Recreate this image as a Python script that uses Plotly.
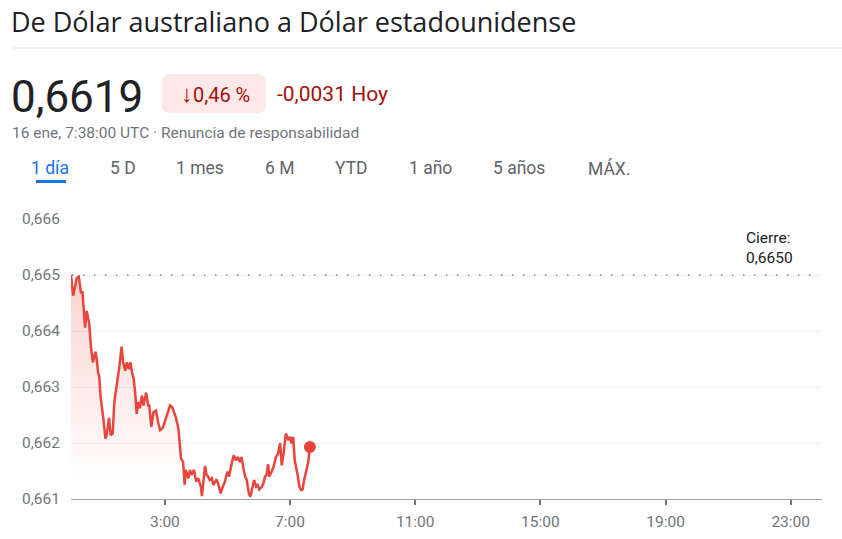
import plotly.graph_objects as go

# AUD -> USD, 16 ene (UTC)
times = ["0:00", "0:04", "0:08", "0:11", "0:15", "0:17", "0:19", "0:22", "0:25", "0:27",
         "0:30", "0:33", "0:35", "0:38", "0:42", "0:47", "0:49", "0:52", "0:54", "0:57",
         "0:59", "1:02", "1:06", "1:08", "1:11", "1:13", "1:16", "1:20", "1:23", "1:26",
         "1:29", "1:33", "1:37", "1:40", "1:44", "1:47", "1:51", "1:54", "1:57", "2:00",
         "2:03", "2:06", "2:09", "2:12", "2:16", "2:19", "2:24", "2:28", "2:30", "2:34",
         "2:38", "2:43", "2:47", "2:51", "2:56", "3:01", "3:05", "3:10", "3:14", "3:16",
         "3:21", "3:26", "3:31", "3:35", "3:38", "3:40", "3:45", "3:48", "3:51", "3:56",
         "4:00", "4:04", "4:09", "4:11", "4:14", "4:17", "4:20", "4:23", "4:26", "4:30",
         "4:33", "4:36", "4:39", "4:42", "4:47", "4:51", "4:55", "5:00", "5:03", "5:08",
         "5:12", "5:16", "5:20", "5:24", "5:27", "5:30", "5:34", "5:37", "5:41", "5:44",
         "5:48", "5:51", "5:55", "5:58", "6:01", "6:06", "6:09", "6:12", "6:15", "6:18",
         "6:20", "6:25", "6:29", "6:33", "6:37", "6:41", "6:44", "6:48", "6:52", "6:57",
         "7:00", "7:03", "7:06", "7:09", "7:14", "7:18", "7:21", "7:24", "7:27", "7:32",
         "7:35", "7:38"]
rates = [0.66500, 0.66463, 0.66480, 0.66495, 0.66497, 0.66486, 0.66469, 0.66469, 0.66427, 0.66406,
         0.66436, 0.66422, 0.66413, 0.66374, 0.66344, 0.66363, 0.66353, 0.66326, 0.66320, 0.66280,
         0.66267, 0.66244, 0.66208, 0.66213, 0.66232, 0.66245, 0.66214, 0.66217, 0.66273, 0.66291,
         0.66309, 0.66338, 0.66372, 0.66344, 0.66329, 0.66344, 0.66332, 0.66344, 0.66326, 0.66315,
         0.66291, 0.66252, 0.66273, 0.66262, 0.66285, 0.66267, 0.66290, 0.66267, 0.66267, 0.66229,
         0.66255, 0.66258, 0.66237, 0.66223, 0.66227, 0.66243, 0.66255, 0.66267, 0.66264, 0.66258,
         0.66246, 0.66226, 0.66172, 0.66166, 0.66125, 0.66152, 0.66137, 0.66152, 0.66143, 0.66152,
         0.66131, 0.66137, 0.66122, 0.66105, 0.66134, 0.66159, 0.66143, 0.66140, 0.66134, 0.66137,
         0.66125, 0.66131, 0.66135, 0.66128, 0.66110, 0.66122, 0.66131, 0.66149, 0.66140, 0.66163,
         0.66178, 0.66169, 0.66175, 0.66166, 0.66175, 0.66157, 0.66140, 0.66134, 0.66110, 0.66104,
         0.66119, 0.66134, 0.66122, 0.66125, 0.66117, 0.66122, 0.66128, 0.66140, 0.66143, 0.66162,
         0.66140, 0.66149, 0.66160, 0.66175, 0.66181, 0.66200, 0.66160, 0.66184, 0.66217, 0.66205,
         0.66211, 0.66199, 0.66211, 0.66169, 0.66146, 0.66122, 0.66116, 0.66117, 0.66134, 0.66155,
         0.66166, 0.66193]

prev_close = 0.6650
tick_hours = [3, 7, 11, 15, 19, 23]
tick_labels = ["3:00", "7:00", "11:00", "15:00", "19:00", "23:00"]
y_ticks = [0.661, 0.662, 0.663, 0.664, 0.665, 0.666]
tabs = ["1 día", "5 D", "1 mes", "6 M", "YTD", "1 año", "5 años", "MÁX."]
tab_x = [50, 123, 200, 279, 351, 430, 519, 609]

hours = [int(t.split(":")[0]) + int(t.split(":")[1]) / 60 for t in times]

RED = "#e8453c"
FONT = "Roboto"

# plot area in page pixels (body margin is removed below, so figure sits at 0,0)
L, R, T, B = 71, 822, 219, 499
W, H = 842, 539


def px(x):
    return (x - L) / (R - L)


def py(y):
    return (B - y) / (B - T)


fig = go.Figure()

fig.add_trace(go.Scatter(
    x=hours, y=rates, mode="lines",
    line=dict(color=RED, width=2.5),
    fill="tozeroy",
    fillgradient=dict(type="vertical", start=0.6613, stop=0.665,
                      colorscale=[[0, "rgba(234,67,53,0)"], [1, "rgba(234,67,53,0.24)"]]),
    hoverinfo="skip", showlegend=False))

fig.add_trace(go.Scatter(
    x=[hours[-1]], y=[rates[-1]], mode="markers",
    marker=dict(color=RED, size=12), hoverinfo="skip", showlegend=False))

# previous close dotted line
fig.add_shape(type="line", xref="x", yref="y", x0=0.03, x1=23.85, y0=prev_close, y1=prev_close,
              line=dict(color="#80868b", width=1.5, dash="1.5px,9.5px"))
fig.add_annotation(xref="x", yref="y", x=21.5, y=prev_close, yshift=6,
                   text="Cierre:<br>" + f"{prev_close:.4f}".replace(".", ","),
                   showarrow=False, xanchor="left", yanchor="bottom", align="left",
                   font=dict(family=FONT, size=15.5, color="#202124"))

# header
fig.add_annotation(xref="paper", yref="paper", x=px(10), y=py(21),
                   text="De Dólar australiano a Dólar estadounidense", showarrow=False,
                   xanchor="left", yanchor="middle", borderpad=0,
                   font=dict(family="Open Sans", size=27, color="#202124"))
fig.add_shape(type="line", xref="paper", yref="paper", x0=px(12), x1=px(842), y0=py(48), y1=py(48),
              line=dict(color="#e3e3e3", width=1))

fig.add_annotation(xref="paper", yref="paper", x=px(9), y=py(97),
                   text=f"{rates[-1]:.4f}".replace(".", ","), showarrow=False,
                   xanchor="left", yanchor="middle",
                   font=dict(family=FONT, size=44, color="#202124"))

# badge with rounded corners
bx0, bx1, by0, by1, r = px(162), px(266), py(113), py(74), 8
rx, ry = r / (R - L), r / (B - T)
fig.add_shape(type="path", xref="paper", yref="paper",
              path=(f"M {bx0+rx},{by0} L {bx1-rx},{by0} Q {bx1},{by0} {bx1},{by0+ry} "
                    f"L {bx1},{by1-ry} Q {bx1},{by1} {bx1-rx},{by1} L {bx0+rx},{by1} "
                    f"Q {bx0},{by1} {bx0},{by1-ry} L {bx0},{by0+ry} Q {bx0},{by0} {bx0+rx},{by0} Z"),
              fillcolor="#fce8e6", line=dict(width=0), layer="below")
fig.add_annotation(xref="paper", yref="paper", x=px(215), y=py(94),
                   text="<span style='font-size:24px'>↓</span>0,46 %", showarrow=False,
                   xanchor="center", yanchor="middle",
                   font=dict(family=FONT, size=20, color="#a50e0e"))
fig.add_annotation(xref="paper", yref="paper", x=px(275), y=py(94),
                   text="-0,0031 Hoy", showarrow=False, xanchor="left", yanchor="middle",
                   font=dict(family=FONT, size=21, color="#a50e0e"))

fig.add_annotation(xref="paper", yref="paper", x=px(10), y=py(133),
                   text="16 ene, 7:38:00 UTC · Renuncia de responsabilidad", showarrow=False,
                   xanchor="left", yanchor="middle",
                   font=dict(family=FONT, size=15.5, color="#70757a"))

# range tabs
for i, (lab, tx) in enumerate(zip(tabs, tab_x)):
    fig.add_annotation(xref="paper", yref="paper", x=px(tx), y=py(168), text=lab,
                       showarrow=False, xanchor="center", yanchor="middle",
                       font=dict(family=FONT, size=17.5, color="#1a73e8" if i == 0 else "#5f6368"))
fig.add_shape(type="line", xref="paper", yref="paper", x0=px(36), x1=px(66), y0=py(181.5), y1=py(181.5),
              line=dict(color="#1a73e8", width=3))

fig.update_layout(
    width=W, height=H,
    margin=dict(l=L, r=W - R, t=T, b=H - B, pad=0),
    paper_bgcolor="white", plot_bgcolor="white",
    separators=",.",
    font=dict(family=FONT, size=15.5, color="#70757a"),
    xaxis=dict(range=[0, 24], tickvals=tick_hours, ticktext=tick_labels,
               showgrid=False, zeroline=False, showline=True, linecolor="#9aa0a6", linewidth=1,
               ticks="outside", ticklen=5, tickwidth=2, tickcolor="#70757a",
               ticklabelstandoff=3, automargin=False, fixedrange=True),
    yaxis=dict(range=[0.661, 0.666], tickvals=y_ticks, tickformat=".3f",
               showgrid=True, gridcolor="#eeeeee", gridwidth=1, zeroline=False, showline=False,
               ticks="", ticklabelstandoff=10, automargin=False, fixedrange=True),
)

fig.write_html("out.html", config={"displayModeBar": False},
               post_script="document.body.style.margin='0';document.body.style.overflow='hidden';")
